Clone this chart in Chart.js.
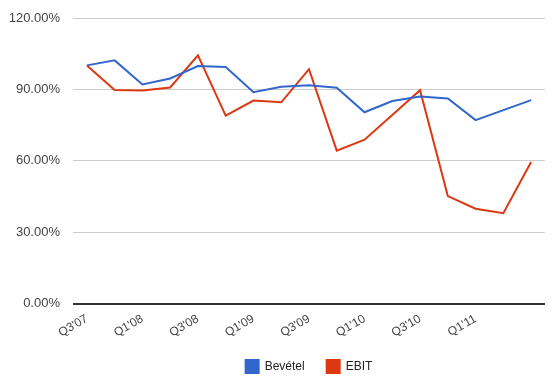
<!DOCTYPE html>
<html>
<head>
<meta charset="utf-8">
<script src="https://cdn.jsdelivr.net/npm/chart.js@4"></script>
<style>
  body { margin: 0; background: #fff; }
  #wrap { width: 559px; height: 383px; }
</style>
</head>
<body>
<div id="wrap"><canvas id="myChart"></canvas></div>
<script>
var quarters = ["Q3'07", "Q4'07", "Q1'08", "Q2'08", "Q3'08", "Q4'08", "Q1'09", "Q2'09", "Q3'09",
    "Q4'09", "Q1'10", "Q2'10", "Q3'10", "Q4'10", "Q1'11", "Q2'11", "Q3'11"];
var bevetel = [100.1, 102.2, 92.1, 94.6, 99.8, 99.4, 88.8, 91.1, 91.8, 90.7, 80.4, 85.1, 87.0, 86.2, 77.1, 81.3, 85.5];
var ebit = [100.0, 89.8, 89.5, 90.8, 104.3, 79.0, 85.3, 84.6, 98.5, 64.3, 68.9, 79.3, 89.7, 45.2, 39.9, 38.0, 59.5];
var yTicks = [0, 30, 60, 90, 120];

Chart.defaults.font.family = "'Liberation Sans', Arial, sans-serif";
Chart.defaults.font.size = 13;
Chart.defaults.color = '#444';

var ctx = document.getElementById('myChart').getContext('2d');
var chart = new Chart(ctx, {
    type: 'line',
    data: {
        labels: quarters,
        datasets: [{
            label: 'Bevétel',
            data: bevetel,
            borderColor: '#3366cc',
            backgroundColor: '#3366cc',
            borderWidth: 2,
            pointRadius: 0,
            tension: 0
        }, {
            label: 'EBIT',
            data: ebit,
            borderColor: '#dc3912',
            backgroundColor: '#dc3912',
            borderWidth: 2,
            pointRadius: 0,
            tension: 0
        }]
    },
    options: {
        responsive: true,
        maintainAspectRatio: false,
        animation: false,
        layout: { padding: { left: 8, right: 14, top: 18, bottom: 0 } },
        plugins: {
            tooltip: { enabled: false },
            legend: {
                position: 'bottom',
                fullSize: false,
                labels: { boxWidth: 13, boxHeight: 13, padding: 22, color: '#222', font: { size: 12 } }
            }
        },
        scales: {
            x: {
                offset: true,
                grid: { display: false, drawTicks: false },
                border: { display: false },
                afterFit: function (axis) {
                    axis.height = axis.height - 10;
                    axis.paddingLeft = 0;
                    axis.paddingRight = 0;
                },
                ticks: {
                    autoSkip: false,
                    minRotation: 30,
                    maxRotation: 30,
                    padding: 8,
                    font: { size: 12 },
                    callback: function (v, i) {
                        return (i % 2 == 0 && i < quarters.length - 1) ? quarters[i] : '';
                    }
                }
            },
            y: {
                min: yTicks[0],
                max: yTicks[yTicks.length - 1],
                afterBuildTicks: function (axis) {
                    axis.ticks = yTicks.map(function (v) { return { value: v }; });
                },
                afterFit: function (axis) {
                    axis.width = 65;
                    axis.paddingTop = 0;
                    axis.paddingBottom = 0;
                },
                grid: {
                    drawTicks: false,
                    color: function (c) { return c.tick.value === 0 ? '#333' : '#ccc'; },
                    lineWidth: function (c) { return c.tick.value === 0 ? 2 : 1; }
                },
                border: { display: false },
                ticks: {
                    padding: 13,
                    callback: function (v) { return v.toFixed(2) + '%'; }
                }
            }
        }
    }
});
</script>
</body>
</html>
